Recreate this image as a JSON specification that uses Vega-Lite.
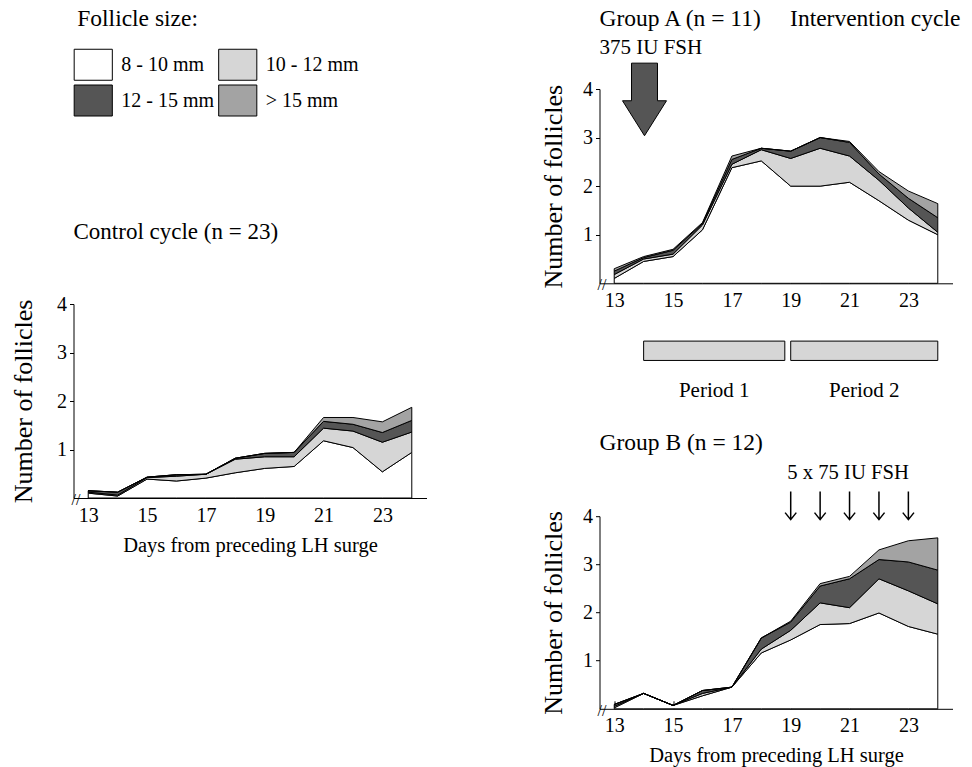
{
  "$schema": "https://vega.github.io/schema/vega-lite/v6.json",
  "padding": {"left": 9.5, "top": 6, "right": 5, "bottom": 0},
  "background": "white",
  "bounds": "full",
  "spacing": 113,
  "datasets": {
    "control": [
      {"day": 13, "s1": 0.10, "s2": 0.02, "s3": 0.03, "s4": 0.00},
      {"day": 14, "s1": 0.04, "s2": 0.02, "s3": 0.06, "s4": 0.00},
      {"day": 15, "s1": 0.39, "s2": 0.03, "s3": 0.01, "s4": 0.00},
      {"day": 16, "s1": 0.35, "s2": 0.10, "s3": 0.03, "s4": 0.00},
      {"day": 17, "s1": 0.41, "s2": 0.08, "s3": 0.00, "s4": 0.00},
      {"day": 18, "s1": 0.52, "s2": 0.28, "s3": 0.02, "s4": 0.00},
      {"day": 19, "s1": 0.61, "s2": 0.24, "s3": 0.07, "s4": 0.00},
      {"day": 20, "s1": 0.65, "s2": 0.20, "s3": 0.09, "s4": 0.00},
      {"day": 21, "s1": 1.18, "s2": 0.26, "s3": 0.14, "s4": 0.08},
      {"day": 22, "s1": 1.04, "s2": 0.34, "s3": 0.14, "s4": 0.14},
      {"day": 23, "s1": 0.54, "s2": 0.61, "s3": 0.20, "s4": 0.22},
      {"day": 24, "s1": 0.94, "s2": 0.42, "s3": 0.24, "s4": 0.27}
    ],
    "groupA": [
      {"day": 13, "s1": 0.10, "s2": 0.08, "s3": 0.07, "s4": 0.05},
      {"day": 14, "s1": 0.45, "s2": 0.05, "s3": 0.03, "s4": 0.02},
      {"day": 15, "s1": 0.55, "s2": 0.05, "s3": 0.08, "s4": 0.02},
      {"day": 16, "s1": 1.10, "s2": 0.10, "s3": 0.03, "s4": 0.02},
      {"day": 17, "s1": 2.38, "s2": 0.07, "s3": 0.10, "s4": 0.07},
      {"day": 18, "s1": 2.52, "s2": 0.23, "s3": 0.03, "s4": 0.00},
      {"day": 19, "s1": 2.00, "s2": 0.57, "s3": 0.15, "s4": 0.00},
      {"day": 20, "s1": 2.00, "s2": 0.78, "s3": 0.22, "s4": 0.00},
      {"day": 21, "s1": 2.08, "s2": 0.54, "s3": 0.28, "s4": 0.02},
      {"day": 22, "s1": 1.70, "s2": 0.42, "s3": 0.13, "s4": 0.05},
      {"day": 23, "s1": 1.30, "s2": 0.25, "s3": 0.20, "s4": 0.15},
      {"day": 24, "s1": 1.00, "s2": 0.05, "s3": 0.30, "s4": 0.29}
    ],
    "groupB": [
      {"day": 13, "s1": 0.02, "s2": 0.03, "s3": 0.04, "s4": 0.00},
      {"day": 14, "s1": 0.32, "s2": 0.00, "s3": 0.00, "s4": 0.00},
      {"day": 15, "s1": 0.07, "s2": 0.00, "s3": 0.00, "s4": 0.00},
      {"day": 16, "s1": 0.27, "s2": 0.05, "s3": 0.06, "s4": 0.00},
      {"day": 17, "s1": 0.45, "s2": 0.00, "s3": 0.00, "s4": 0.00},
      {"day": 18, "s1": 1.16, "s2": 0.08, "s3": 0.23, "s4": 0.00},
      {"day": 19, "s1": 1.43, "s2": 0.20, "s3": 0.17, "s4": 0.02},
      {"day": 20, "s1": 1.75, "s2": 0.45, "s3": 0.35, "s4": 0.05},
      {"day": 21, "s1": 1.77, "s2": 0.33, "s3": 0.60, "s4": 0.05},
      {"day": 22, "s1": 1.99, "s2": 0.71, "s3": 0.40, "s4": 0.20},
      {"day": 23, "s1": 1.71, "s2": 0.74, "s3": 0.60, "s4": 0.44},
      {"day": 24, "s1": 1.55, "s2": 0.63, "s3": 0.70, "s4": 0.67}
    ],
    "periods": [
      {"period": "Period 1", "start": 14, "end": 18.8},
      {"period": "Period 2", "start": 19, "end": 24}
    ],
    "fshB": [
      {"day": 19}, {"day": 20}, {"day": 21}, {"day": 22}, {"day": 23}
    ]
  },
  "hconcat": [
    {
      "bounds": "flush",
      "spacing": 0,
      "vconcat": [
        {
          "width": 353,
          "height": 214.4,
          "data": {"values": [{}]},
          "mark": {"type": "text", "fontSize": 1, "baseline": "top"},
          "encoding": {"text": {"value": ""}}
        },
        {
          "width": 353,
          "height": 194,
          "title": {"text": "Control cycle (n = 23)", "offset": 50, "fontSize": 23},
          "layer": [
            {
              "data": {"name": "control"},
              "transform": [{"fold": ["s1", "s2", "s3", "s4"], "as": ["size", "n"]}],
              "mark": {"type": "area", "stroke": "black", "strokeWidth": 1, "interpolate": "linear"},
              "encoding": {
                "x": {"field": "day", "type": "quantitative", "scale": {"domain": [12.5, 24.5], "nice": false},
                      "axis": {"title": "Days from preceding LH surge", "values": [13, 15, 17, 19, 21, 23]}},
                "y": {"field": "n", "type": "quantitative", "stack": "zero", "scale": {"domain": [0, 4], "nice": false},
                      "axis": {"title": "Number of follicles", "values": [1, 2, 3, 4], "titlePadding": 20.5}},
                "color": {"field": "size", "type": "nominal",
                          "scale": {"domain": ["s1", "s3", "s2", "s4"], "range": ["#ffffff", "#555555", "#d6d6d6", "#a3a3a3"]},
                          "legend": {"orient": "none", "legendX": 3.75, "legendY": -82.5, "title": "Follicle size:",
                                     "columns": 2, "symbolType": "M-1.23,-1H1.23V1H-1.23Z", "symbolSize": 961,
                                     "symbolStrokeColor": "black", "symbolStrokeWidth": 1,
                                     "labelOffset": 12, "rowPadding": 0, "columnPadding": 1.5, "titlePadding": 18.5,
                                     "labelExpr": "{'s1': '8 - 10 mm', 's2': '10 - 12 mm', 's3': '12 - 15 mm', 's4': '> 15 mm'}[datum.value]"}},
                "order": {"field": "size"}
              }
            },
            {
              "data": {"values": [{}]},
              "mark": {"type": "text", "text": "//", "fontSize": 16, "font": "Liberation Serif", "align": "center", "baseline": "middle", "dx": 1, "dy": 2},
              "encoding": {"x": {"datum": 12.55}, "y": {"datum": 0}}
            }
          ]
        }
      ]
    },
    {
      "bounds": "flush",
      "spacing": 57.1,
      "vconcat": [
        {
          "width": 353,
          "height": 194.3,
          "title": {"text": "Group A (n = 11)\u00a0\u00a0\u00a0\u00a0 Intervention cycle", "subtitle": "375 IU FSH", "offset": 3, "subtitlePadding": 7},
          "layer": [
            {
              "data": {"name": "groupA"},
              "transform": [{"fold": ["s1", "s2", "s3", "s4"], "as": ["size", "n"]}],
              "mark": {"type": "area", "stroke": "black", "strokeWidth": 1, "interpolate": "linear"},
              "encoding": {
                "x": {"field": "day", "type": "quantitative", "scale": {"domain": [12.5, 24.5], "nice": false},
                      "axis": {"title": null, "values": [13, 15, 17, 19, 21, 23]}},
                "y": {"field": "n", "type": "quantitative", "stack": "zero", "scale": {"domain": [0, 4], "nice": false},
                      "axis": {"title": "Number of follicles", "values": [1, 2, 3, 4]}},
                "color": {"field": "size", "type": "nominal",
                          "scale": {"domain": ["s1", "s3", "s2", "s4"], "range": ["#ffffff", "#555555", "#d6d6d6", "#a3a3a3"]},
                          "legend": {"orient": "none", "legendX": 3.75, "legendY": -82.5, "title": "Follicle size:",
                                     "columns": 2, "symbolType": "M-1.23,-1H1.23V1H-1.23Z", "symbolSize": 961,
                                     "symbolStrokeColor": "black", "symbolStrokeWidth": 1,
                                     "labelOffset": 12, "rowPadding": 0, "columnPadding": 1.5, "titlePadding": 18.5,
                                     "labelExpr": "{'s1': '8 - 10 mm', 's2': '10 - 12 mm', 's3': '12 - 15 mm', 's4': '> 15 mm'}[datum.value]"}},
                "order": {"field": "size"}
              }
            },
            {
              "data": {"values": [{}]},
              "mark": {"type": "point", "shape": "M-0.59,-1.65L0.59,-1.65L0.59,0.06L1,0.06L0,1.65L-1,0.06L-0.59,0.06Z", "size": 1936, "filled": true, "fill": "#555555", "stroke": "black", "strokeWidth": 1, "opacity": 1},
              "encoding": {"x": {"datum": 14.03}, "y": {"datum": 3.785}}
            },
            {
              "data": {"values": [{}]},
              "mark": {"type": "text", "text": "//", "fontSize": 16, "font": "Liberation Serif", "align": "center", "baseline": "middle", "dx": 1, "dy": 2},
              "encoding": {"x": {"datum": 12.55}, "y": {"datum": 0}}
            }
          ]
        },
        {
          "width": 353,
          "height": 117.2,
          "data": {"name": "periods"},
          "transform": [{"calculate": "(datum.start + datum.end) / 2", "as": "mid"}],
          "layer": [
            {
              "mark": {"type": "rect", "fill": "#d6d6d6", "stroke": "black", "strokeWidth": 1},
              "encoding": {
                "x": {"field": "start", "type": "quantitative", "scale": {"domain": [12.5, 24.5], "nice": false}, "axis": null},
                "x2": {"field": "end"},
                "y": {"datum": 0.835, "type": "quantitative", "scale": {"domain": [0, 1], "nice": false}, "axis": null},
                "y2": {"datum": 1}
              }
            },
            {
              "mark": {"type": "text", "fontSize": 21, "font": "Liberation Serif", "align": "center", "baseline": "middle"},
              "encoding": {
                "x": {"field": "mid", "type": "quantitative"},
                "y": {"datum": 0.57},
                "text": {"field": "period"}
              }
            }
          ]
        },
        {
          "width": 353,
          "height": 192.6,
          "title": {"text": "Group B (n = 12)", "offset": 8},
          "layer": [
            {
              "data": {"name": "groupB"},
              "transform": [{"fold": ["s1", "s2", "s3", "s4"], "as": ["size", "n"]}],
              "mark": {"type": "area", "stroke": "black", "strokeWidth": 1, "interpolate": "linear"},
              "encoding": {
                "x": {"field": "day", "type": "quantitative", "scale": {"domain": [12.5, 24.5], "nice": false},
                      "axis": {"title": "Days from preceding LH surge", "values": [13, 15, 17, 19, 21, 23]}},
                "y": {"field": "n", "type": "quantitative", "stack": "zero", "scale": {"domain": [0, 4], "nice": false},
                      "axis": {"title": "Number of follicles", "values": [1, 2, 3, 4]}},
                "color": {"field": "size", "type": "nominal",
                          "scale": {"domain": ["s1", "s3", "s2", "s4"], "range": ["#ffffff", "#555555", "#d6d6d6", "#a3a3a3"]},
                          "legend": {"orient": "none", "legendX": 3.75, "legendY": -82.5, "title": "Follicle size:",
                                     "columns": 2, "symbolType": "M-1.23,-1H1.23V1H-1.23Z", "symbolSize": 961,
                                     "symbolStrokeColor": "black", "symbolStrokeWidth": 1,
                                     "labelOffset": 12, "rowPadding": 0, "columnPadding": 1.5, "titlePadding": 18.5,
                                     "labelExpr": "{'s1': '8 - 10 mm', 's2': '10 - 12 mm', 's3': '12 - 15 mm', 's4': '> 15 mm'}[datum.value]"}},
                "order": {"field": "size"}
              }
            },
            {
              "data": {"name": "fshB"},
              "mark": {"type": "point", "shape": "M0,-1L0,1M-0.4,0.5L0,1L0.4,0.5", "size": 784, "filled": false, "stroke": "black", "strokeWidth": 1.5, "opacity": 1},
              "encoding": {"x": {"field": "day", "type": "quantitative"}, "y": {"datum": 4.22}}
            },
            {
              "data": {"values": [{}]},
              "mark": {"type": "text", "text": "5 x 75 IU FSH", "fontSize": 20.7, "font": "Liberation Serif", "align": "center", "baseline": "middle"},
              "encoding": {"x": {"datum": 20.95}, "y": {"datum": 4.89}}
            },
            {
              "data": {"values": [{}]},
              "mark": {"type": "text", "text": "//", "fontSize": 16, "font": "Liberation Serif", "align": "center", "baseline": "middle", "dx": 1, "dy": 2},
              "encoding": {"x": {"datum": 12.55}, "y": {"datum": 0}}
            }
          ]
        }
      ]
    }
  ],
  "resolve": {"scale": {"color": "shared"}},
  "config": {
    "font": "Liberation Serif",
    "view": {"stroke": null},
    "axis": {
      "grid": false, "domainColor": "black", "tickColor": "black", "labelColor": "black", "titleColor": "black",
      "labelFont": "Liberation Serif", "titleFont": "Liberation Serif", "labelFontSize": 20, "titleFontWeight": "normal",
      "domainWidth": 1, "tickWidth": 1
    },
    "axisX": {"tickSize": -8, "labelPadding": 15, "titleFontSize": 20.5, "titlePadding": 10, "labelFlush": false},
    "axisY": {"tickSize": 4, "labelPadding": 3, "titleFontSize": 26, "titlePadding": 16.5, "labelFlush": false},
    "title": {"font": "Liberation Serif", "fontSize": 23.5, "fontWeight": "normal", "anchor": "start", "color": "black",
              "subtitleFont": "Liberation Serif", "subtitleFontSize": 21, "subtitleColor": "black", "frame": "group"},
    "legend": {
      "titleFont": "Liberation Serif", "titleFontSize": 23.5, "titleFontWeight": "normal", "titleColor": "black",
      "labelFont": "Liberation Serif", "labelFontSize": 20, "labelColor": "black"
    }
  }
}
